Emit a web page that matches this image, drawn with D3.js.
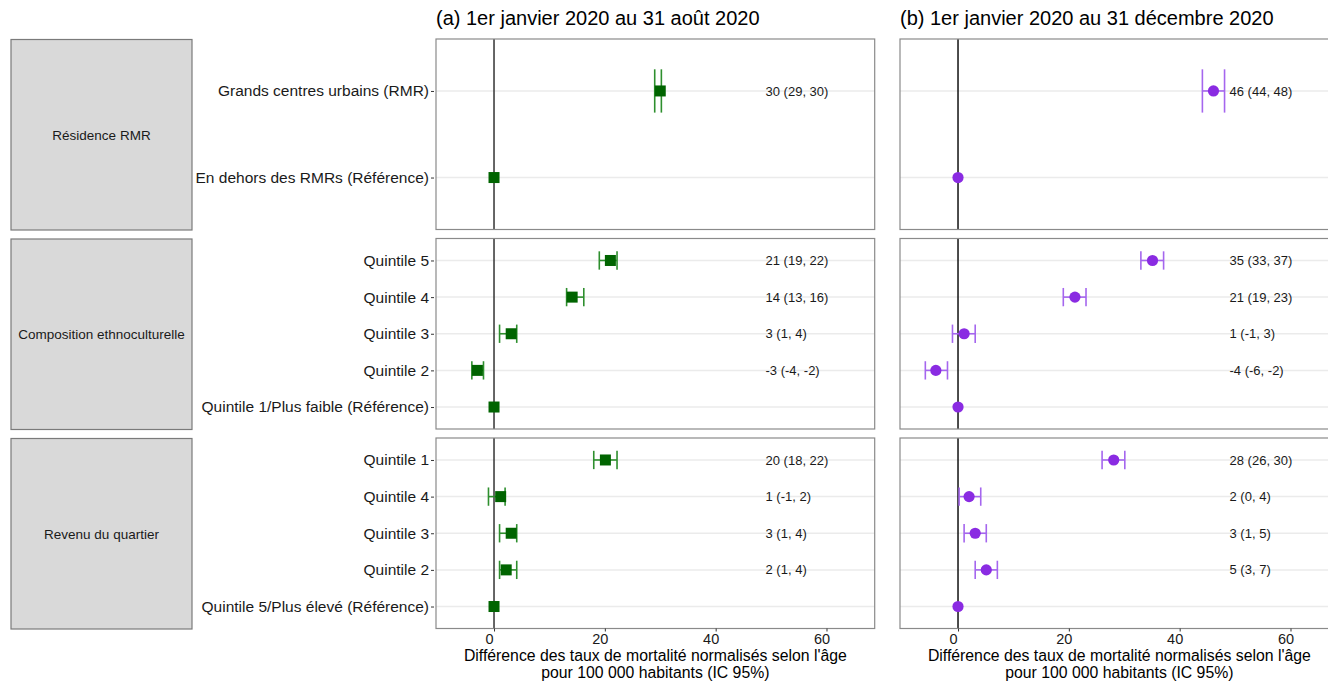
<!DOCTYPE html>
<html>
<head>
<meta charset="utf-8">
<script src="https://cdn.jsdelivr.net/npm/d3@7"></script>
<style>
  html, body { margin: 0; padding: 0; background: #fff; }
  svg { display: block; font-family: "Liberation Sans", Arial, sans-serif; }
</style>
</head>
<body>
<svg id="chart" width="1328" height="685"></svg>
<script>
// ---------------- DATA ----------------
const groups = ["Résidence RMR", "Composition ethnoculturelle", "Revenu du quartier"];
const rowLabels = [
  ["Grands centres urbains (RMR)", "En dehors des RMRs (Référence)"],
  ["Quintile 5", "Quintile 4", "Quintile 3", "Quintile 2", "Quintile 1/Plus faible (Référence)"],
  ["Quintile 1", "Quintile 4", "Quintile 3", "Quintile 2", "Quintile 5/Plus élevé (Référence)"]
];
const panelTitles = ["(a) 1er janvier 2020 au 31 août 2020", "(b) 1er janvier 2020 au 31 décembre 2020"];

// Panel (a): 1 Jan – 31 Aug 2020
const estA = [[30.0, 0], [21.0, 14.1, 3.1, -3.0, 0], [20.1, 1.2, 3.1, 2.2, 0]];
const lowA = [[29.0, null], [19.0, 13.1, 1.0, -4.0, null], [18.0, -1.0, 1.0, 1.0, null]];
const highA = [[30.2, null], [22.2, 16.2, 4.1, -1.9, null], [22.2, 2.0, 4.1, 4.1, null]];
const textA = [["30 (29, 30)", ""], ["21 (19, 22)", "14 (13, 16)", "3 (1, 4)", "-3 (-4, -2)", ""], ["20 (18, 22)", "1 (-1, 2)", "3 (1, 4)", "2 (1, 4)", ""]];

// Panel (b): 1 Jan – 31 Dec 2020
const estB = [[46.1, 0], [35.1, 21.1, 1.1, -4.0, 0], [28.1, 2.0, 3.1, 5.1, 0]];
const lowB = [[44.1, null], [33.0, 19.0, -1.0, -5.9, null], [26.0, 0.2, 1.1, 3.1, null]];
const highB = [[48.1, null], [37.1, 23.1, 3.1, -1.9, null], [30.1, 4.1, 5.1, 7.1, null]];
const textB = [["46 (44, 48)", ""], ["35 (33, 37)", "21 (19, 23)", "1 (-1, 3)", "-4 (-6, -2)", ""], ["28 (26, 30)", "2 (0, 4)", "3 (1, 5)", "5 (3, 7)", ""]];

const xTicks = [0, 20, 40, 60];
const xDomain = [-10.47, 68.7];
const labelX = 49;            // x position (data units) where the estimate text starts
const barHeight = 0.5;        // error bar whisker height (in row units)
const xTitle = ["Différence des taux de mortalité normalisés selon l'âge", "pour 100 000 habitants (IC 95%)"];

// ---------------- LAYOUT ----------------
const svg = d3.select("#chart");
const FONT = '"Liberation Sans", Arial, sans-serif';
const panelLefts = [436, 900];
const panelWidth = 438.7;
const facetTop = 39, facetH = 190.5, facetGap = 9;
const stripX = 11, stripW = 181;

const panels = [
  {est: estA, low: lowA, high: highA, txt: textA, shape: "square", fill: "#006400", bar: "#2e8f2e", zero: "#333"},
  {est: estB, low: lowB, high: highB, txt: textB, shape: "circle", fill: "#8a2be2", bar: "#a566ee", zero: "#111"}
];

const facetY = groups.map((g, i) => {
  const top = facetTop + i * (facetH + facetGap);
  return d3.scalePoint().domain(rowLabels[i]).range([top, top + facetH]).padding(0.6);
});

// strips
groups.forEach((g, i) => {
  const top = facetTop + i * (facetH + facetGap);
  svg.append("rect").attr("x", stripX).attr("y", top + 0.5).attr("width", stripW).attr("height", facetH)
    .attr("fill", "#d9d9d9").attr("stroke", "#7a7a7a").attr("stroke-width", 1.2);
  svg.append("text").attr("x", stripX + stripW / 2).attr("y", top + facetH / 2 + 2)
    .attr("text-anchor", "middle").attr("dominant-baseline", "middle")
    .attr("font-size", 13.5).attr("fill", "#1a1a1a").text(g);
});

panels.forEach((p, pi) => {
  const x = d3.scaleLinear().domain(xDomain).range([panelLefts[pi], panelLefts[pi] + panelWidth]);

  // title
  svg.append("text").attr("x", panelLefts[pi]).attr("y", 25).attr("font-size", 20).attr("fill", "#000")
    .text(panelTitles[pi]);

  groups.forEach((g, gi) => {
    const y = facetY[gi];
    const top = facetTop + gi * (facetH + facetGap);
    const gg = svg.append("g");
    const rows = rowLabels[gi].map((lab, ri) => ({
      lab, est: p.est[gi][ri], lo: p.low[gi][ri], hi: p.high[gi][ri], txt: p.txt[gi][ri]
    }));
    const step = y.step();

    gg.append("rect").attr("x", x.range()[0]).attr("y", top).attr("width", panelWidth).attr("height", facetH)
      .attr("fill", "#fff");

    gg.selectAll(".grid").data(rows).join("line")
      .attr("x1", x.range()[0]).attr("x2", x.range()[1])
      .attr("y1", d => y(d.lab)).attr("y2", d => y(d.lab))
      .attr("stroke", "#ebebeb").attr("stroke-width", 1.5);

    gg.append("line").attr("x1", x(0)).attr("x2", x(0)).attr("y1", top).attr("y2", top + facetH)
      .attr("stroke", p.zero).attr("stroke-width", 1.5);

    const eb = rows.filter(d => d.lo !== null);
    const ebG = gg.append("g").attr("stroke", p.bar).attr("stroke-width", 1.6).attr("fill", "none");
    ebG.selectAll(".h").data(eb).join("line")
      .attr("x1", d => x(d.lo)).attr("x2", d => x(d.hi))
      .attr("y1", d => y(d.lab)).attr("y2", d => y(d.lab));
    ebG.selectAll(".l").data(eb).join("line")
      .attr("x1", d => x(d.lo)).attr("x2", d => x(d.lo))
      .attr("y1", d => y(d.lab) - step * barHeight / 2).attr("y2", d => y(d.lab) + step * barHeight / 2);
    ebG.selectAll(".r").data(eb).join("line")
      .attr("x1", d => x(d.hi)).attr("x2", d => x(d.hi))
      .attr("y1", d => y(d.lab) - step * barHeight / 2).attr("y2", d => y(d.lab) + step * barHeight / 2);

    if (p.shape === "square") {
      gg.selectAll(".pt").data(rows).join("rect")
        .attr("x", d => x(d.est) - 5.5).attr("y", d => y(d.lab) - 5.5)
        .attr("width", 11).attr("height", 11).attr("fill", p.fill);
    } else {
      gg.selectAll(".pt").data(rows).join("circle")
        .attr("cx", d => x(d.est)).attr("cy", d => y(d.lab)).attr("r", 5.6).attr("fill", p.fill);
    }

    gg.selectAll(".lbl").data(rows.filter(d => d.txt)).join("text")
      .attr("x", x(labelX)).attr("y", d => y(d.lab)).attr("dy", "0.35em")
      .attr("font-size", 13).attr("fill", "#1a1a1a").text(d => d.txt);

    gg.append("rect").attr("x", x.range()[0]).attr("y", top).attr("width", panelWidth).attr("height", facetH)
      .attr("fill", "none").attr("stroke", "#8a8a8a").attr("stroke-width", 1.2);

    if (pi === 0) {
      const ya = svg.append("g").attr("transform", `translate(${x.range()[0] - 2},0)`)
        .call(d3.axisLeft(y).tickSize(3).tickPadding(2));
      ya.select(".domain").remove();
      ya.selectAll(".tick line").attr("stroke", "#333").attr("stroke-width", 1);
      ya.selectAll(".tick text").attr("font-size", 15.5).attr("font-family", FONT).attr("fill", "#1a1a1a");
    }

    if (gi === groups.length - 1) {
      const xa = svg.append("g").attr("transform", `translate(0,${top + facetH})`)
        .call(d3.axisBottom(x).tickValues(xTicks).tickSize(3).tickPadding(2));
      xa.select(".domain").remove();
      xa.selectAll(".tick line").attr("stroke", "#333").attr("stroke-width", 1);
      xa.selectAll(".tick text").attr("font-size", 14.5).attr("font-family", FONT).attr("fill", "#1a1a1a")
        .attr("dx", -5);
      const cx = (x.range()[0] + x.range()[1]) / 2;
      xTitle.forEach((t, k) => {
        svg.append("text").attr("x", cx).attr("y", 661 + k * 16.5).attr("text-anchor", "middle")
          .attr("font-size", 15.8).attr("fill", "#000").text(t);
      });
    }
  });
});
</script>
</body>
</html>
